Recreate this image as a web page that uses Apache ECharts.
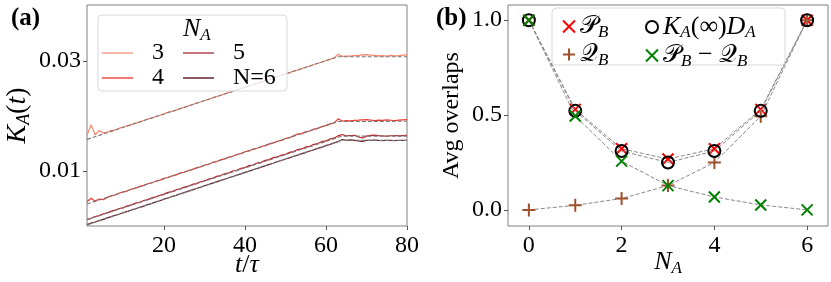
<!DOCTYPE html>
<html><head><meta charset="utf-8">
<script src="https://cdn.jsdelivr.net/npm/echarts@6/dist/echarts.min.js"></script>
<style>html,body{margin:0;padding:0;background:#fff}#c{width:831px;height:282px}</style>
</head><body><div id="c"></div>
<script>
// ---------- Panel (a) data ----------
const T = [1,2,3,4,5,6,7,8,9,10,11,12,13,14,15,16,17,18,19,20,21,22,23,24,25,26,27,28,29,30,31,32,33,34,35,36,37,38,39,40,41,42,43,44,45,46,47,48,49,50,51,52,53,54,55,56,57,58,59,60,61,62,63,64,65,66,67,68,69,70,71,72,73,74,75,76,77,78,79,80];
const K3 = [0.01650,0.01840,0.01660,0.01735,0.01690,0.01710,0.01735,0.01750,0.01780,0.01800,0.01825,0.01845,0.01872,0.01893,0.01920,0.01945,0.01966,0.01992,0.02014,0.02040,0.02070,0.02085,0.02108,0.02135,0.02160,0.02185,0.02206,0.02236,0.02255,0.02282,0.02306,0.02330,0.02356,0.02378,0.02404,0.02430,0.02450,0.02478,0.02500,0.02525,0.02548,0.02574,0.02596,0.02622,0.02646,0.02668,0.02696,0.02716,0.02744,0.02768,0.02790,0.02816,0.02838,0.02864,0.02888,0.02910,0.02938,0.02960,0.02984,0.03010,0.03030,0.03058,0.03125,0.03085,0.03092,0.03090,0.03098,0.03104,0.03112,0.03116,0.03108,0.03102,0.03094,0.03100,0.03092,0.03104,0.03096,0.03100,0.03108,0.03112];
const K4 = [0.00440,0.00505,0.00452,0.00490,0.00480,0.00520,0.00548,0.00566,0.00600,0.00620,0.00640,0.00672,0.00688,0.00720,0.00738,0.00768,0.00786,0.00815,0.00834,0.00866,0.00882,0.00912,0.00930,0.00962,0.00978,0.01010,0.01026,0.01058,0.01075,0.01106,0.01124,0.01156,0.01172,0.01204,0.01220,0.01252,0.01268,0.01300,0.01316,0.01350,0.01365,0.01398,0.01414,0.01446,0.01462,0.01494,0.01512,0.01542,0.01558,0.01592,0.01606,0.01640,0.01672,0.01680,0.01712,0.01728,0.01762,0.01776,0.01810,0.01826,0.01858,0.01874,0.01950,0.01910,0.01915,0.01912,0.01920,0.01925,0.01932,0.01936,0.01928,0.01918,0.01926,0.01922,0.01930,0.01924,0.01918,0.01926,0.01932,0.01936];
const K5 = [0.00122,0.00140,0.00172,0.00190,0.00220,0.00238,0.00270,0.00288,0.00318,0.00335,0.00366,0.00384,0.00416,0.00432,0.00464,0.00480,0.00512,0.00530,0.00560,0.00580,0.00612,0.00626,0.00660,0.00675,0.00708,0.00724,0.00756,0.00772,0.00805,0.00820,0.00854,0.00868,0.00902,0.00918,0.00950,0.00966,0.01000,0.01014,0.01048,0.01064,0.01098,0.01110,0.01146,0.01160,0.01194,0.01208,0.01244,0.01256,0.01292,0.01305,0.01340,0.01354,0.01390,0.01402,0.01438,0.01450,0.01486,0.01500,0.01536,0.01548,0.01584,0.01598,0.01640,0.01665,0.01640,0.01646,0.01650,0.01620,0.01600,0.01635,0.01648,0.01652,0.01645,0.01640,0.01636,0.01642,0.01646,0.01640,0.01644,0.01648];
const K6 = [0.00025,0.00052,0.00072,0.00100,0.00120,0.00148,0.00170,0.00196,0.00218,0.00242,0.00265,0.00292,0.00314,0.00340,0.00362,0.00390,0.00410,0.00438,0.00460,0.00488,0.00510,0.00536,0.00558,0.00586,0.00606,0.00634,0.00656,0.00682,0.00704,0.00732,0.00754,0.00780,0.00802,0.00830,0.00850,0.00878,0.00900,0.00926,0.00948,0.00976,0.00998,0.01024,0.01046,0.01072,0.01094,0.01122,0.01142,0.01170,0.01192,0.01218,0.01240,0.01268,0.01290,0.01316,0.01336,0.01364,0.01386,0.01412,0.01434,0.01462,0.01484,0.01512,0.01536,0.01572,0.01560,0.01566,0.01558,0.01548,0.01540,0.01556,0.01560,0.01564,0.01556,0.01552,0.01560,0.01558,0.01554,0.01560,0.01556,0.01558];
const FIT3 = [[1,0.01576],[63,0.03080],[80,0.03080]];
const FIT4 = [[1,0.00400],[63,0.01900],[80,0.01905]];
const FIT5 = [[1,0.00115],[64,0.01635],[80,0.01635]];
const FIT6 = [[1,0.00020],[64,0.01560],[80,0.01555]];
const A_XTICKS = [20,40,60,80];
const A_YTICKS = [0.01,0.03];
const A_NAMES = ['3','4','5','N=6'];

// ---------- Panel (b) data ----------
const NA = [0,1,2,3,4,5,6];
const PB  = [1.0,0.530,0.322,0.268,0.322,0.530,1.0];
const QB  = [0.0,0.024,0.060,0.128,0.250,0.494,1.0];
const KD  = [1.0,0.522,0.310,0.250,0.310,0.522,1.0];
const PMQ = [1.0,0.495,0.257,0.128,0.068,0.026,0.0];
const B_XTICKS = [0,2,4,6];
const B_YTICKS = [0,0.5,1.0];

const SERIF = "Liberation Serif";
const MATH = "DejaVu Serif";
const pair = (xs, ys) => xs.map((x,i)=>[x, ys[i]]);
const rich = (big, small) => ({
  i:{fontFamily:SERIF,fontStyle:'italic',fontWeight:'normal',fontSize:big,color:'#000'},
  n:{fontFamily:SERIF,fontStyle:'normal',fontWeight:'normal',fontSize:big,color:'#000'},
  b:{fontFamily:SERIF,fontStyle:'normal',fontWeight:'bold',fontSize:big,color:'#000'},
  c:{fontFamily:MATH,fontStyle:'normal',fontWeight:'normal',fontSize:big-1,color:'#000'},
  s:{fontFamily:SERIF,fontStyle:'italic',fontWeight:'normal',fontSize:small,color:'#000',padding:[Math.round(big*0.45),0,0,0]},
  g:{width:14}
});
const FRAME = '#808080';
const lineColors = ['#fa8468','#ec3a30','#c0202a','#62202c'];
const legendLine = ['#f6a593','#ef5850','#b9525b','#70303c'];
const XPATH = 'path://M0,0L10,10M10,0L0,10';
const PLUSPATH = 'path://M5,0L5,10M0,5L10,5';

const chart = echarts.init(document.getElementById('c'), null, {renderer:'canvas'});
const curves = [K3,K4,K5,K6];
const fits = [FIT3,FIT4,FIT5,FIT6];
const series = [];
curves.forEach((k,i)=>series.push({
  name:A_NAMES[i], type:'line', xAxisIndex:0, yAxisIndex:0, data:pair(T,k),
  symbol:'none', lineStyle:{color:lineColors[i], width:1.2}, itemStyle:{color:lineColors[i]}, z:2, silent:true
}));
fits.forEach((f,i)=>series.push({
  name:'fit'+i, type:'line', xAxisIndex:0, yAxisIndex:0, data:f,
  symbol:'none', lineStyle:{color:'#7a7a7a', width:1.1, type:[4,2]}, z:3, silent:true
}));
const bSeries = [
  {name:'PB', data:PB, symbol:XPATH, size:11, color:'#ff0000'},
  {name:'QB', data:QB, symbol:PLUSPATH, size:13, color:'#a0522d'},
  {name:'KD', data:KD, symbol:'circle', size:12, color:'#000000'},
  {name:'PQ', data:PMQ, symbol:XPATH, size:11, color:'#008000'}
];
bSeries.forEach((s,i)=>series.push({
  name:s.name, type:'line', xAxisIndex:1, yAxisIndex:1, data:pair(NA,s.data),
  symbol:s.symbol, symbolSize:s.size, showAllSymbol:true,
  itemStyle:{color:'transparent', borderColor:s.color, borderWidth:2},
  lineStyle:{color:'#888888', width:1, type:[4,2]}, z:3+i, silent:true
}));

const bLabels = {
  PB:'{c|𝒫}{s|B}',
  QB:'{c|𝒬}{s|B}',
  KD:'{i|K}{s|A}{n|(∞)}{i|D}{s|A}',
  PQ:'{c|𝒫}{s|B}{n| − }{c|𝒬}{s|B}'
};
const bLegendItem = s => ({name:s.name, icon:s.symbol, itemStyle:{color:'transparent', borderColor:s.color, borderWidth:2}});

const tickStyle = {show:true, inside:false, length:4, lineStyle:{color:'#555'}};
const lab = (vals, margin, fmt) => ({customValues:vals, margin:margin, formatter:v=>'{n|'+fmt(v)+'}', rich:rich(24,15)});

chart.setOption({
  animation:false,
  backgroundColor:'#fff',
  textStyle:{fontFamily:SERIF},
  title:[
    {text:'{b|(a)}', left:6, top:1, textStyle:{rich:rich(25,16)}},
    {text:'{b|(b)}', left:431, top:1, textStyle:{rich:rich(25,16)}},
    {text:'{i|N}{s|A}', left:178, top:10, z:12, textStyle:{rich:rich(26,17)}}
  ],
  grid:[
    {left:87, right:424, top:5, bottom:56, show:true, borderColor:FRAME, borderWidth:1, backgroundColor:'transparent', containLabel:false, outerBoundsMode:'none'},
    {left:508, right:3, top:5, bottom:56, show:true, borderColor:FRAME, borderWidth:1, backgroundColor:'transparent', containLabel:false, outerBoundsMode:'none'}
  ],
  xAxis:[
    {type:'value', gridIndex:0, min:1, max:80, splitLine:{show:false}, axisLine:{show:false, onZero:false},
      axisTick:Object.assign({customValues:A_XTICKS}, tickStyle),
      axisLabel:lab(A_XTICKS, 8, v=>String(v)),
      name:'{i|t}{n|/}{i|τ}', nameLocation:'middle', nameGap:26, nameMoveOverlap:false, nameTextStyle:{rich:rich(26,16)}},
    {type:'value', gridIndex:1, min:-0.45, max:6.45, splitLine:{show:false}, axisLine:{show:false, onZero:false},
      axisTick:Object.assign({customValues:B_XTICKS}, tickStyle),
      axisLabel:lab(B_XTICKS, 8, v=>String(v)),
      name:'{i|N}{s|A}', nameLocation:'middle', nameGap:22, nameMoveOverlap:false, nameTextStyle:{rich:rich(26,17)}}
  ],
  yAxis:[
    {type:'value', gridIndex:0, min:0, max:0.0402, splitLine:{show:false}, axisLine:{show:false, onZero:false},
      axisTick:Object.assign({customValues:A_YTICKS}, tickStyle),
      axisLabel:lab(A_YTICKS, 6, v=>v.toFixed(2)),
      name:'{i|K}{s|A}{n|(}{i|t}{n|)}', nameLocation:'middle', nameRotate:90, nameGap:54, nameMoveOverlap:false, nameTextStyle:{rich:rich(28,18)}},
    {type:'value', gridIndex:1, min:-0.085, max:1.08, splitLine:{show:false}, axisLine:{show:false, onZero:false},
      axisTick:Object.assign({customValues:B_YTICKS}, tickStyle),
      axisLabel:lab(B_YTICKS, 6, v=>v.toFixed(1)),
      name:'{n|Avg overlaps}', nameLocation:'middle', nameRotate:90, nameGap:44, nameMoveOverlap:false, nameTextStyle:{rich:rich(24,15)}}
  ],
  legend:[
    {data:[{name:'3',itemStyle:{color:legendLine[0]}},{name:'4',itemStyle:{color:legendLine[1]}}], icon:'rect', orient:'vertical', left:102, top:41, padding:0, itemGap:1, itemWidth:31, itemHeight:1.6, z:12,
      formatter:n=>'{g|}{n|'+n+'}', textStyle:{lineHeight:20, rich:rich(24,15)}},
    {data:[{name:'5',itemStyle:{color:legendLine[2]}},{name:'N=6',itemStyle:{color:legendLine[3]}}], icon:'rect', orient:'vertical', left:183, top:41, padding:0, itemGap:1, itemWidth:31, itemHeight:1.6, z:12,
      formatter:n=>'{g|}{n|'+n+'}', textStyle:{lineHeight:20, rich:rich(24,15)}},
    {data:[bLegendItem(bSeries[0]), bLegendItem(bSeries[1])], orient:'vertical', left:562, top:14, padding:0, itemGap:1, itemWidth:12, itemHeight:12, z:12,
      formatter:n=>bLabels[n], textStyle:{lineHeight:22, rich:rich(26,17)}},
    {data:[bLegendItem(bSeries[2]), bLegendItem(bSeries[3])], orient:'vertical', left:645, top:14, padding:0, itemGap:1, itemWidth:12, itemHeight:12, z:12,
      formatter:n=>bLabels[n], textStyle:{lineHeight:22, rich:rich(26,17)}}
  ],
  graphic:[
    {type:'rect', z:10, shape:{x:98,y:15,width:189,height:76,r:4}, style:{fill:'rgba(255,255,255,0.8)', stroke:'#d9d9d9', lineWidth:1}},
    {type:'rect', z:10, shape:{x:552,y:8,width:233,height:57,r:4}, style:{fill:'rgba(255,255,255,0.8)', stroke:'#d9d9d9', lineWidth:1}}
  ],
  series:series
});
</script></body></html>
